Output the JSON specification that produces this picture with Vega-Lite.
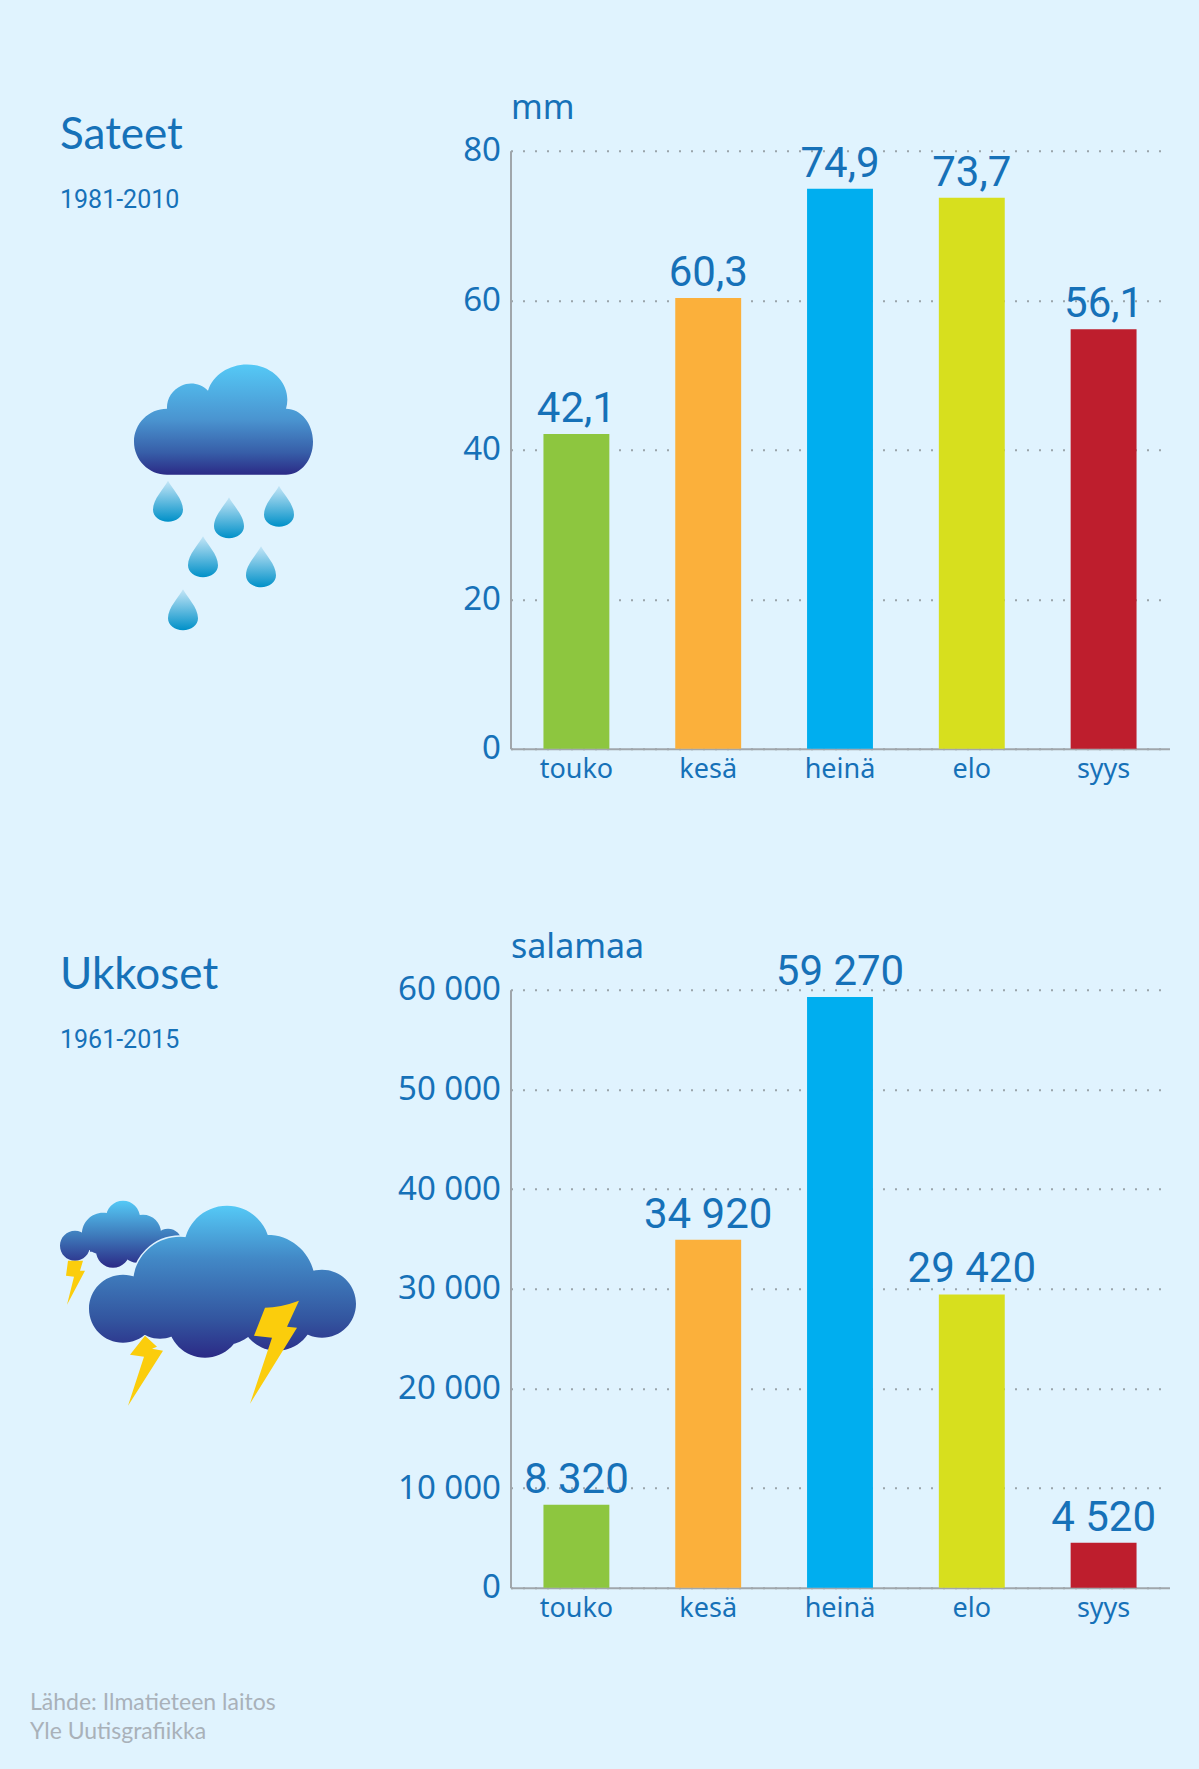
{
  "$schema": "https://vega.github.io/schema/vega-lite/v6.json",
  "background": "#e0f3fe",
  "padding": {"left": 0, "top": 91.7, "right": 29.5, "bottom": 27.3},
  "config": {
    "view": {"stroke": null},
    "text": {"color": "#1671b8"},
    "axis": {
      "labelColor": "#1671b8",
      "titleColor": "#1671b8",
      "labelFont": "Noto Sans",
      "titleFont": "Noto Sans",
      "domainColor": "#a0a6ab",
      "domainWidth": 2,
      "ticks": false
    }
  },
  "datasets": {
    "sateet": [
      {"kk": "touko", "mm": 42.1, "label": "42,1"},
      {"kk": "kesä", "mm": 60.3, "label": "60,3"},
      {"kk": "heinä", "mm": 74.9, "label": "74,9"},
      {"kk": "elo", "mm": 73.7, "label": "73,7"},
      {"kk": "syys", "mm": 56.1, "label": "56,1"}
    ],
    "ukkoset": [
      {"kk": "touko", "salamaa": 8320, "label": "8 320"},
      {"kk": "kesä", "salamaa": 34920, "label": "34 920"},
      {"kk": "heinä", "salamaa": 59270, "label": "59 270"},
      {"kk": "elo", "salamaa": 29420, "label": "29 420"},
      {"kk": "syys", "salamaa": 4520, "label": "4 520"}
    ]
  },
  "columns": 2,
  "bounds": "flush",
  "spacing": {"column": 70.5, "row": 241},
  "concat": [
    {
      "width": 440,
      "height": 598,
      "encoding": {
        "x": {"field": "x", "type": "quantitative", "axis": null, "scale": {"domain": [0, 440], "range": [0, 440]}},
        "y": {"field": "y", "type": "quantitative", "axis": null, "scale": {"domain": [150, 748], "range": [0, 598]}}
      },
      "layer": [
        {
          "data": {"values": [{"x": 60, "y": 148, "label": "Sateet"}]},
          "mark": {"type": "text", "align": "left", "baseline": "alphabetic", "font": "Lato", "fontSize": 44},
          "encoding": {"text": {"field": "label"}}
        },
        {
          "data": {"values": [{"x": 60, "y": 207, "label": "1981-2010"}]},
          "mark": {"type": "text", "align": "left", "baseline": "alphabetic", "font": "Roboto", "fontSize": 25},
          "encoding": {"text": {"field": "label"}}
        },
        {
          "data": {"values": [{"x": 224, "y": 419}]},
          "mark": {
            "type": "point", "filled": true, "opacity": 1, "size": 4,
            "shape": "M-57 55A33 33 0 0 1 -57 -11A24 24 0 0 1 -16 -29A40 35 0 0 1 62 -11A27 33 0 0 1 62 55Z",
            "color": {"gradient": "linear", "x1": 0, "y1": 0, "x2": 0, "y2": 1, "stops": [
              {"offset": 0, "color": "#55c9f6"},
              {"offset": 0.5, "color": "#4a94d0"},
              {"offset": 0.8, "color": "#375ea8"},
              {"offset": 1, "color": "#2b2a86"}
            ]}
          }
        },
        {
          "data": {"values": [
            {"x": 168, "y": 507},
            {"x": 229, "y": 523.6},
            {"x": 279, "y": 512},
            {"x": 203, "y": 562.6},
            {"x": 261, "y": 572.6},
            {"x": 183, "y": 615.5}
          ]},
          "mark": {
            "type": "point", "filled": true, "opacity": 1, "size": 4,
            "shape": "M0 -27C4 -19 15 -9 15 2A15 12 0 0 1 -15 2C-15 -9 -4 -19 0 -27Z",
            "color": {"gradient": "linear", "x1": 0, "y1": 0, "x2": 0, "y2": 1, "stops": [
              {"offset": 0, "color": "#c5e6f7"},
              {"offset": 1, "color": "#0090c8"}
            ]}
          }
        }
      ]
    },
    {
      "width": 659,
      "height": 598,
      "data": {"name": "sateet"},
      "encoding": {
        "x": {
          "field": "kk", "type": "nominal", "sort": null,
          "scale": {"paddingInner": 0.5, "paddingOuter": 0.25},
          "axis": {"title": null, "labelAngle": 0, "labelFontSize": 27, "labelPadding": 8}
        },
        "y": {
          "field": "mm", "type": "quantitative",
          "scale": {"domain": [0, 80]},
          "axis": {
            "title": "mm", "titleAngle": 0, "titleAlign": "left", "titleBaseline": "alphabetic",
            "titleX": 0, "titleY": -32, "titleFontSize": 34, "titleFontWeight": "normal",
            "values": [0, 20, 40, 60, 80], "labelFontSize": 33, "labelPadding": 10,
            "grid": true, "gridDash": [2, 10], "gridColor": "#9aa5ab", "gridWidth": 2
          }
        }
      },
      "layer": [
        {
          "mark": {"type": "bar"},
          "encoding": {
            "color": {
              "field": "kk", "type": "nominal", "legend": null,
              "scale": {
                "domain": ["touko", "kesä", "heinä", "elo", "syys"],
                "range": ["#8dc63f", "#fbb03b", "#00aeef", "#d7df1e", "#be1e2d"]
              }
            }
          }
        },
        {
          "mark": {"type": "text", "baseline": "alphabetic", "dy": -12, "font": "Roboto", "fontSize": 42},
          "encoding": {"text": {"field": "label"}}
        }
      ]
    },
    {
      "width": 440,
      "height": 598,
      "encoding": {
        "x": {"field": "x", "type": "quantitative", "axis": null, "scale": {"domain": [0, 440], "range": [0, 440]}},
        "y": {"field": "y", "type": "quantitative", "axis": null, "scale": {"domain": [989, 1587], "range": [0, 598]}}
      },
      "layer": [
        {
          "data": {"values": [{"x": 60, "y": 988, "label": "Ukkoset"}]},
          "mark": {"type": "text", "align": "left", "baseline": "alphabetic", "font": "Lato", "fontSize": 44},
          "encoding": {"text": {"field": "label"}}
        },
        {
          "data": {"values": [{"x": 60, "y": 1047, "label": "1961-2015"}]},
          "mark": {"type": "text", "align": "left", "baseline": "alphabetic", "font": "Roboto", "fontSize": 25},
          "encoding": {"text": {"field": "label"}}
        },
        {
          "data": {"values": [{"x": 120, "y": 1235}]},
          "mark": {
            "type": "point", "filled": true, "opacity": 1, "size": 4,
            "shape": "M-60 10A15 15 0 1 1 -30 10A15 15 0 1 1 -60 10ZM-38 -2A21 21 0 1 1 4 -2A21 21 0 1 1 -38 -2ZM-14 -18A17 17 0 1 1 20 -18A17 17 0 1 1 -14 -18ZM5 -3A18 18 0 1 1 41 -3A18 18 0 1 1 5 -3ZM34 7A14 14 0 1 1 62 7A14 14 0 1 1 34 7ZM-24 15A17 17 0 1 1 10 15A17 17 0 1 1 -24 15ZM2 12A15 15 0 1 1 32 12A15 15 0 1 1 2 12ZM-30 -2L40 -2L40 16L-30 16Z",
            "color": {"gradient": "linear", "x1": 0, "y1": 0, "x2": 0, "y2": 1, "stops": [
              {"offset": 0, "color": "#55c9f6"},
              {"offset": 0.5, "color": "#3f7dbd"},
              {"offset": 1, "color": "#2b2a86"}
            ]}
          }
        },
        {
          "data": {"values": [{"x": 75, "y": 1280}]},
          "mark": {
            "type": "point", "filled": true, "opacity": 1, "size": 4, "color": "#fbcd0c",
            "shape": "M-7 -20L8 -20L5 -10L10 -10L-8 24L-1 -4L-9 -5Z"
          }
        },
        {
          "data": {"values": [{"x": 220, "y": 1280}]},
          "mark": {
            "type": "point", "filled": true, "opacity": 1, "size": 4,
            "color": "#e0f3fe", "stroke": "#e0f3fe", "strokeWidth": 3,
            "shape": "M-131 28A34 34 0 1 1 -63 28A34 34 0 1 1 -131 28ZM-36 -32A43 43 0 1 1 50 -32A43 43 0 1 1 -36 -32ZM-87 3A47 47 0 1 1 7 3A47 47 0 1 1 -87 3ZM-1 2A48 48 0 1 1 95 2A48 48 0 1 1 -1 2ZM68 23A34 34 0 1 1 136 23A34 34 0 1 1 68 23ZM-52 40A37 37 0 1 1 22 40A37 37 0 1 1 -52 40ZM20 33A37 37 0 1 1 94 33A37 37 0 1 1 20 33ZM-50 15A50 50 0 1 1 50 15A50 50 0 1 1 -50 15ZM-90 28A30 30 0 1 1 -30 28A30 30 0 1 1 -90 28Z"
          }
        },
        {
          "data": {"values": [{"x": 220, "y": 1280}]},
          "mark": {
            "type": "point", "filled": true, "opacity": 1, "size": 4,
            "shape": "M-131 28A34 34 0 1 1 -63 28A34 34 0 1 1 -131 28ZM-36 -32A43 43 0 1 1 50 -32A43 43 0 1 1 -36 -32ZM-87 3A47 47 0 1 1 7 3A47 47 0 1 1 -87 3ZM-1 2A48 48 0 1 1 95 2A48 48 0 1 1 -1 2ZM68 23A34 34 0 1 1 136 23A34 34 0 1 1 68 23ZM-52 40A37 37 0 1 1 22 40A37 37 0 1 1 -52 40ZM20 33A37 37 0 1 1 94 33A37 37 0 1 1 20 33ZM-50 15A50 50 0 1 1 50 15A50 50 0 1 1 -50 15ZM-90 28A30 30 0 1 1 -30 28A30 30 0 1 1 -90 28Z",
            "color": {"gradient": "linear", "x1": 0, "y1": 0, "x2": 0, "y2": 1, "stops": [
              {"offset": 0, "color": "#55c9f6"},
              {"offset": 0.35, "color": "#4288c6"},
              {"offset": 0.75, "color": "#33559f"},
              {"offset": 1, "color": "#2b2a86"}
            ]}
          }
        },
        {
          "data": {"values": [{"x": 270, "y": 1350}]},
          "mark": {
            "type": "point", "filled": true, "opacity": 1, "size": 4, "color": "#fbcd0c",
            "shape": "M29 -50Q10 -43 -5 -43L-16 -15L2 -13L-20 53L27 -23L17 -24Z"
          }
        },
        {
          "data": {"values": [{"x": 145, "y": 1365}]},
          "mark": {
            "type": "point", "filled": true, "opacity": 1, "size": 4, "color": "#fbcd0c",
            "shape": "M0 -30L-15 -11L-1 -9L-17 40L18 -15L7 -17L12 -19Z"
          }
        },
        {
          "data": {"values": [
            {"x": 30, "y": 1709, "label": "Lähde: Ilmatieteen laitos"},
            {"x": 30, "y": 1738, "label": "Yle Uutisgrafiikka"}
          ]},
          "mark": {"type": "text", "align": "left", "baseline": "alphabetic", "font": "Lato", "fontSize": 23, "color": "#a9b1b9"},
          "encoding": {"text": {"field": "label"}}
        }
      ]
    },
    {
      "width": 659,
      "height": 598,
      "data": {"name": "ukkoset"},
      "encoding": {
        "x": {
          "field": "kk", "type": "nominal", "sort": null,
          "scale": {"paddingInner": 0.5, "paddingOuter": 0.25},
          "axis": {"title": null, "labelAngle": 0, "labelFontSize": 27, "labelPadding": 8}
        },
        "y": {
          "field": "salamaa", "type": "quantitative",
          "scale": {"domain": [0, 60000]},
          "axis": {
            "title": "salamaa", "titleAngle": 0, "titleAlign": "left", "titleBaseline": "alphabetic",
            "titleX": 0, "titleY": -32, "titleFontSize": 34, "titleFontWeight": "normal",
            "values": [0, 10000, 20000, 30000, 40000, 50000, 60000],
            "labelExpr": "replace(format(datum.value, ','), ',', ' ')",
            "labelFontSize": 33, "labelPadding": 10,
            "grid": true, "gridDash": [2, 10], "gridColor": "#9aa5ab", "gridWidth": 2
          }
        }
      },
      "layer": [
        {
          "mark": {"type": "bar"},
          "encoding": {
            "color": {
              "field": "kk", "type": "nominal", "legend": null,
              "scale": {
                "domain": ["touko", "kesä", "heinä", "elo", "syys"],
                "range": ["#8dc63f", "#fbb03b", "#00aeef", "#d7df1e", "#be1e2d"]
              }
            }
          }
        },
        {
          "mark": {"type": "text", "baseline": "alphabetic", "dy": -12, "font": "Roboto", "fontSize": 42},
          "encoding": {"text": {"field": "label"}}
        }
      ]
    }
  ]
}
